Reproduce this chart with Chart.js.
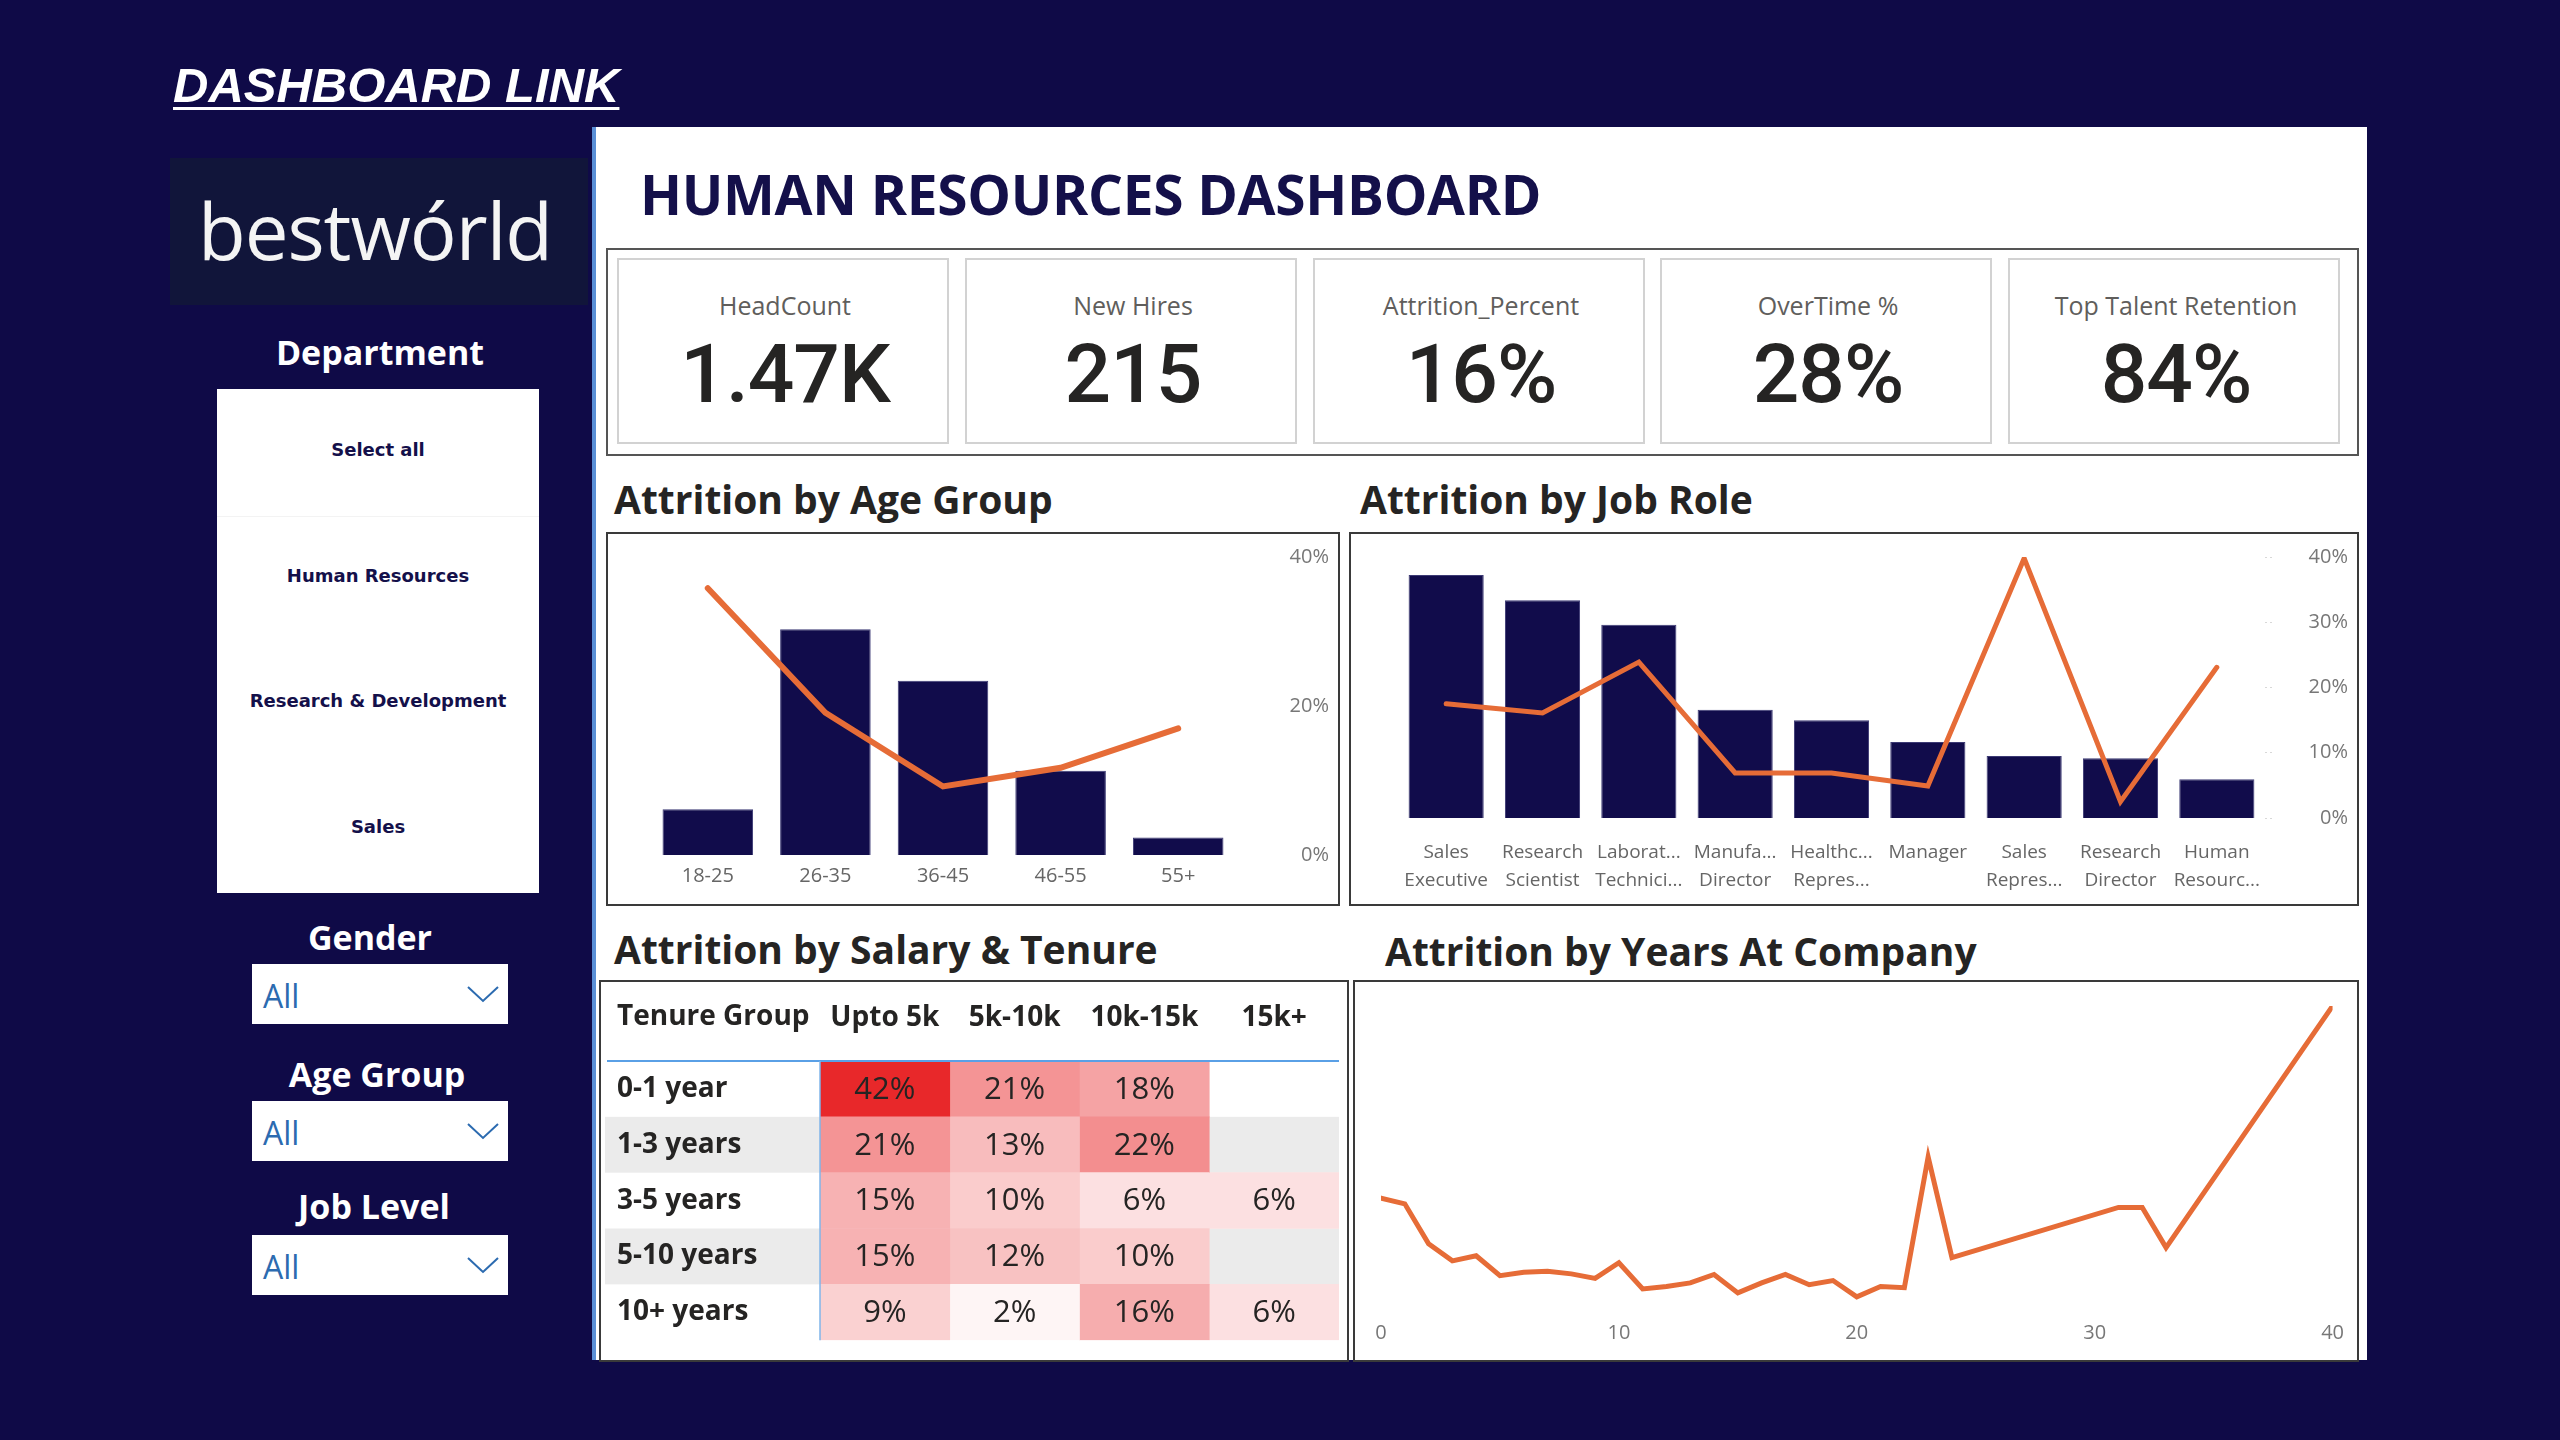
<!DOCTYPE html>
<html>
<head>
<meta charset="utf-8">
<title>Human Resources Dashboard</title>
<script src="https://cdn.jsdelivr.net/npm/chart.js@4.4.1/dist/chart.umd.min.js"></script>
<style>
  html, body { margin: 0; padding: 0; }
  body { width: 2560px; height: 1440px; background: #0f0a47; position: relative; overflow: hidden; font-family: 'Open Sans', sans-serif; }
  .abs { position: absolute; }
  .c { position: absolute; line-height: 1; white-space: nowrap; transform: translate(-50%, -50%); }
  .l { position: absolute; line-height: 1; white-space: nowrap; transform: translateY(-50%); }
  #link { left: 173px; top: 85px; font: italic bold 49px 'Liberation Sans', Arial, sans-serif; color: #fff; text-decoration: underline; text-decoration-thickness: 3px; text-underline-offset: 5px; }
  #logo { left: 170px; top: 158px; width: 418px; height: 147px; background: #11153a; }
  #logo span { left: 205px; top: 72px; color: #f4f4f4; font: 500 78px 'Open Sans'; letter-spacing: -1px; }
  .side { color: #fff; font: 700 34px 'Open Sans'; }
  #dept { left: 217px; top: 389px; width: 322px; height: 504px; background: #fff; }
  .dept-item { font: 700 18px 'DejaVu Sans'; color: #14104a; left: 161px; }
  .drop { left: 252px; width: 256px; height: 60px; background: #fff; }
  .drop span { left: 11px; top: 31px; font: 400 32px 'Open Sans'; color: #2c6bb0; }
  .drop svg { position: absolute; left: 214px; top: 20px; }
  #panel { left: 592px; top: 127px; width: 1775px; height: 1233px; background: #fff; border-left: 4px solid #5a8fd6; box-sizing: border-box; }
  #title { left: 640px; top: 193px; font: 700 55px 'Open Sans'; color: #14104a; letter-spacing: -0.3px; }
  #kpis { left: 606px; top: 248px; width: 1753px; height: 208px; border: 2px solid #555; box-sizing: border-box; }
  .card { top: 258px; width: 332px; height: 186px; border: 2px solid #d2d2d2; box-sizing: border-box; background: #fff; }
  .card .lab { left: 166px; top: 45px; font: 400 25px 'Open Sans'; color: #605e5c; }
  .card .val { left: 166px; top: 114px; font: 500 82px 'Roboto'; color: #252423; letter-spacing: -1px; }
  .sec { font: 700 39px 'Open Sans'; color: #252423; }
  .box { border: 2px solid #3a3a3a; box-sizing: border-box; background: #fff; }
  .wrap { position: absolute; }
</style>
</head>
<body>
<div id="link" class="l">DASHBOARD LINK</div>

<div id="logo" class="abs"><span class="c">bestwórld</span></div>

<div class="c side" style="left:380px;top:352px;">Department</div>
<div id="dept" class="abs">
  <div class="c dept-item" style="top:60px;">Select all</div>
  <div class="abs" style="left:0;top:127px;width:322px;height:1px;background:#f3f3f3;"></div>
  <div class="c dept-item" style="top:186px;">Human Resources</div>
  <div class="c dept-item" style="top:311px;">Research &amp; Development</div>
  <div class="c dept-item" style="top:437px;">Sales</div>
</div>

<div class="c side" style="left:370px;top:937px;">Gender</div>
<div class="abs drop" style="top:964px;"><span class="l">All</span><svg width="34" height="20"><polyline points="2,3 17,17 32,3" fill="none" stroke="#2c6bb0" stroke-width="2"/></svg></div>
<div class="c side" style="left:377px;top:1074px;">Age Group</div>
<div class="abs drop" style="top:1101px;"><span class="l">All</span><svg width="34" height="20"><polyline points="2,3 17,17 32,3" fill="none" stroke="#2c6bb0" stroke-width="2"/></svg></div>
<div class="c side" style="left:374px;top:1206px;">Job Level</div>
<div class="abs drop" style="top:1235px;"><span class="l">All</span><svg width="34" height="20"><polyline points="2,3 17,17 32,3" fill="none" stroke="#2c6bb0" stroke-width="2"/></svg></div>

<div id="panel" class="abs"></div>
<div id="title" class="l">HUMAN RESOURCES DASHBOARD</div>
<div id="kpis" class="abs"></div>
<div id="cards"></div>

<div class="l sec" style="left:614px;top:498px;">Attrition by Age Group</div>
<div class="l sec" style="left:1360px;top:498px;">Attrition by Job Role</div>
<div class="l sec" style="left:614px;top:948px;">Attrition by Salary &amp; Tenure</div>
<div class="l sec" style="left:1385px;top:950px;">Attrition by Years At Company</div>

<div class="abs box" style="left:606px;top:532px;width:734px;height:374px;"></div>
<div class="abs box" style="left:1349px;top:532px;width:1010px;height:374px;"></div>
<div class="abs box" style="left:599px;top:980px;width:750px;height:382px;"></div>
<div class="abs box" style="left:1353px;top:980px;width:1006px;height:382px;"></div>

<div class="wrap" style="left:608px;top:534px;width:730px;height:370px;"><canvas id="ageChart"></canvas></div>
<div class="wrap" style="left:1351px;top:534px;width:1006px;height:370px;"><canvas id="jobChart"></canvas></div>
<div class="wrap" style="left:602px;top:983px;width:745px;height:377px;"><canvas id="tenureChart"></canvas></div>
<div class="wrap" style="left:1355px;top:982px;width:1002px;height:376px;"><canvas id="yearsChart"></canvas></div>

<script>
// KPI cards
const kpiLabels = ['HeadCount', 'New Hires', 'Attrition_Percent', 'OverTime %', 'Top Talent Retention'];
const kpiValues = ['1.47K', '215', '16%', '28%', '84%'];

// Attrition by age group
const ageGroups = ['18-25', '26-35', '36-45', '46-55', '55+'];
const ageHeadcount = [123, 606, 468, 226, 47];
const ageAttrition = [35.8, 19.1, 9.2, 11.7, 17.0];

// Attrition by job role
const jobRoles = [['Sales', 'Executive'], ['Research', 'Scientist'], ['Laborat...', 'Technici...'], ['Manufa...', 'Director'],
  ['Healthc...', 'Repres...'], ['Manager'], ['Sales', 'Repres...'], ['Research', 'Director'], ['Human', 'Resourc...']];
const jobHeadcount = [326, 292, 259, 145, 131, 102, 83, 80, 52];
const jobAttrition = [17.5, 16.1, 23.9, 6.9, 6.9, 4.9, 39.8, 2.5, 23.1];

// Attrition by salary & tenure (percent, null = no data)
const tenureGroups = ['0-1 year', '1-3 years', '3-5 years', '5-10 years', '10+ years'];
const salaryBands = ['Upto 5k', '5k-10k', '10k-15k', '15k+'];
const upto5k = [42, 21, 15, 15, 9];
const from5kTo10k = [21, 13, 10, 12, 2];
const from10kTo15k = [18, 22, 6, 10, 16];
const over15k = [null, null, 6, null, 6];

// Attrition by years at company
const companyYears = [0, 1, 2, 3, 4, 5, 6, 7, 8, 9, 10, 11, 12, 13, 14, 15, 16, 17, 18, 19, 20, 21, 22, 23, 24, 31, 32, 33, 40];
const companyYearsAttrition = [36.4, 34.5, 21.3, 15.6, 17.3, 10.7, 11.8, 12.2, 11.3, 9.8, 15.0, 6.3, 7.1, 8.3, 11.1, 5.0,
  8.3, 11.1, 7.7, 9.1, 3.7, 7.1, 6.7, 50.0, 16.7, 33.3, 33.3, 20.0, 100];

const NAVY = '#110c4b';
const ORANGE = '#e66c37';
const cardLefts = [617, 965, 1313, 1660, 2008];

const cardsEl = document.getElementById('cards');
kpiLabels.forEach((label, i) => {
    const card = document.createElement('div');
    card.className = 'abs card';
    card.style.left = cardLefts[i] + 'px';
    card.innerHTML = '<div class="c lab">' + label + '</div><div class="c val">' + kpiValues[i] + '</div>';
    cardsEl.appendChild(card);
});

Chart.defaults.font.family = "'Open Sans', sans-serif";
Chart.defaults.animation = false;
Chart.defaults.plugins.legend.display = false;
Chart.defaults.plugins.tooltip.enabled = false;

// Combo chart: headcount bars + attrition line
new Chart(document.getElementById('ageChart'), {
    type: 'bar',
    data: {
        labels: ageGroups,
        datasets: [
            {
                type: 'line',
                data: ageAttrition,
                yAxisID: 'yPct',
                borderColor: ORANGE,
                borderWidth: 6,
                borderCapStyle: 'round',
                pointRadius: 0,
                tension: 0,
                order: 0
            },
            {
                type: 'bar',
                data: ageHeadcount,
                yAxisID: 'yCount',
                backgroundColor: NAVY,
                borderColor: '#3c3a74',
                borderWidth: 1,
                barPercentage: 0.77,
                categoryPercentage: 1,
                order: 1
            }
        ]
    },
    options: {
        responsive: true,
        maintainAspectRatio: false,
        layout: { padding: { left: 41, right: 9, top: 23, bottom: 0 } },
        scales: {
            x: {
                grid: { display: false, drawTicks: false },
                border: { display: false },
                ticks: { color: '#666', font: { size: 20 }, padding: 9 },
                afterFit: s => { s.height = 49; }
            },
            yCount: { display: false, min: 0, max: 800 },
            yPct: {
                position: 'right',
                min: 0,
                max: 40,
                grid: { display: false, drawTicks: false },
                border: { display: false },
                ticks: { stepSize: 20, callback: v => v + '%', color: '#777', font: { size: 20 }, crossAlign: 'far' },
                afterFit: s => { s.width = 92; }
            }
        }
    }
});

new Chart(document.getElementById('jobChart'), {
    type: 'bar',
    data: {
        labels: jobRoles,
        datasets: [
            {
                type: 'line',
                data: jobAttrition,
                yAxisID: 'yPct',
                borderColor: ORANGE,
                borderWidth: 5,
                borderCapStyle: 'round',
                pointRadius: 0,
                tension: 0,
                order: 0
            },
            {
                type: 'bar',
                data: jobHeadcount,
                yAxisID: 'yCount',
                backgroundColor: NAVY,
                borderColor: '#3c3a74',
                borderWidth: 1,
                barPercentage: 0.78,
                categoryPercentage: 1,
                order: 1
            }
        ]
    },
    options: {
        responsive: true,
        maintainAspectRatio: false,
        layout: { padding: { left: 47, right: 9, top: 23, bottom: 0 } },
        scales: {
            x: {
                grid: { display: false, drawTicks: false },
                border: { display: false },
                ticks: { color: '#666', font: { size: 19, lineHeight: 1.5 }, padding: 20, maxRotation: 0, autoSkip: false },
                afterFit: s => { s.height = 86; }
            },
            yCount: { display: false, min: 0, max: 350 },
            yPct: {
                position: 'right',
                min: 0,
                max: 40,
                grid: { drawOnChartArea: false, drawTicks: true, tickLength: 10, tickColor: '#d8d8d8', tickBorderDash: [2, 3] },
                border: { display: false },
                ticks: { stepSize: 10, callback: v => v + '%', color: '#777', font: { size: 20 }, crossAlign: 'far' },
                afterFit: s => { s.width = 83; }
            }
        }
    }
});

// Heatmap table drawn as floating horizontal bars
const salarySeries = [upto5k, from5kTo10k, from10kTo15k, over15k];
const heatMax = 42;
function heatColor(v) {
    if (v == null) return 'rgba(0,0,0,0)';
    const t = v / heatMax;
    const r = Math.round(255 + (232 - 255) * t);
    const g = Math.round(255 + (40 - 255) * t);
    const b = Math.round(255 + (42 - 255) * t);
    return 'rgb(' + r + ',' + g + ',' + b + ')';
}
const stripedRows = [1, 3];

const tableDecor = {
    id: 'tableDecor',
    // stripes go under the axis labels, so paint them before anything else
    beforeDraw(chart) {
        const { ctx, chartArea, scales } = chart;
        const rowH = (chartArea.bottom - chartArea.top) / tenureGroups.length;
        ctx.save();
        ctx.fillStyle = '#ebebeb';
        stripedRows.forEach(i => {
            const yc = scales.y.getPixelForValue(i);
            ctx.fillRect(3, yc - rowH / 2, chartArea.right - 3, rowH);
        });
        ctx.restore();
    },
    afterDatasetsDraw(chart) {
        const { ctx, chartArea, scales } = chart;
        ctx.save();
        ctx.fillStyle = '#252423';
        ctx.font = "400 31px 'Open Sans'";
        ctx.textAlign = 'center';
        ctx.textBaseline = 'middle';
        salarySeries.forEach((vals, j) => {
            vals.forEach((v, i) => {
                if (v == null) return;
                ctx.fillText(v + '%', scales.x.getPixelForValue(j + 0.5), scales.y.getPixelForValue(i) + 1);
            });
        });
        ctx.strokeStyle = '#5aa0e6';
        ctx.lineWidth = 2;
        ctx.beginPath();
        ctx.moveTo(5, chartArea.top);
        ctx.lineTo(chartArea.right, chartArea.top);
        ctx.stroke();
        ctx.lineWidth = 1.5;
        ctx.strokeStyle = '#7fb4ea';
        ctx.beginPath();
        ctx.moveTo(chartArea.left, chartArea.top);
        ctx.lineTo(chartArea.left, chartArea.bottom);
        ctx.stroke();
        ctx.fillStyle = '#252423';
        ctx.font = "700 28px 'Open Sans'";
        ctx.textAlign = 'left';
        ctx.fillText('Tenure Group', scales.y.left, scales.x.top + 34);
        ctx.restore();
    }
};

new Chart(document.getElementById('tenureChart'), {
    type: 'bar',
    data: {
        labels: tenureGroups,
        datasets: salarySeries.map((vals, j) => ({
            label: salaryBands[j],
            data: vals.map(v => (v == null ? null : [j, j + 1])),
            backgroundColor: vals.map(heatColor),
            borderWidth: 0,
            barPercentage: 1,
            categoryPercentage: 1,
            grouped: false
        }))
    },
    options: {
        indexAxis: 'y',
        responsive: true,
        maintainAspectRatio: false,
        layout: { padding: { left: 15, right: 8, top: 0, bottom: 0 } },
        scales: {
            x: {
                type: 'linear',
                position: 'top',
                min: 0,
                max: salaryBands.length,
                afterBuildTicks: s => { s.ticks = salaryBands.map((b, i) => ({ value: i + 0.5 })); },
                grid: { display: false, drawTicks: false },
                border: { display: false },
                ticks: { callback: (v, i) => salaryBands[i], color: '#252423', font: { size: 28, weight: '700' }, padding: 26, maxRotation: 0, autoSkip: false },
                afterFit: s => { s.height = 78; }
            },
            y: {
                grid: { display: false, drawTicks: false },
                border: { display: false },
                ticks: { color: '#252423', font: { size: 28, weight: '700' }, crossAlign: 'far', autoSkip: false },
                afterFit: s => { s.width = 203; }
            }
        }
    },
    plugins: [tableDecor]
});

new Chart(document.getElementById('yearsChart'), {
    type: 'line',
    data: {
        datasets: [{
            data: companyYears.map((x, i) => ({ x: x, y: companyYearsAttrition[i] })),
            borderColor: ORANGE,
            borderWidth: 5,
            borderCapStyle: 'round',
            pointRadius: 0,
            tension: 0
        }]
    },
    options: {
        responsive: true,
        maintainAspectRatio: false,
        layout: { padding: { left: 26, right: 22, top: 24, bottom: 0 } },
        scales: {
            x: {
                type: 'linear',
                min: 0,
                max: 40,
                grid: { display: false, drawTicks: false },
                border: { display: false },
                ticks: { stepSize: 10, color: '#777', font: { size: 20 }, padding: 13 },
                afterFit: s => { s.height = 50; }
            },
            y: { display: false, min: 0, max: 100 }
        }
    }
});
</script>
</body>
</html>
